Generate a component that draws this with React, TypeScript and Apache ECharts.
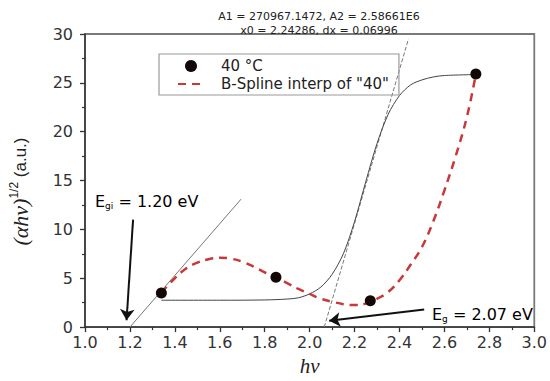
import React, { useEffect, useRef } from "react";
import * as echarts from "echarts";

// measured data points (40 °C)
const pointsX = [1.34, 1.85, 2.27, 2.74];
const pointsY = [3.5, 5.1, 2.7, 25.9];

// B-spline interpolation (dashed red)
const splineX = [1.34, 1.37, 1.4, 1.45, 1.5, 1.55, 1.6, 1.65, 1.7, 1.75, 1.8, 1.85, 1.9, 1.95, 2.0, 2.05, 2.1, 2.15, 2.2, 2.25, 2.3, 2.35, 2.4, 2.45, 2.5, 2.55, 2.6, 2.65, 2.7, 2.74];
const splineY = [3.5, 4.3, 5.0, 6.0, 6.6, 6.95, 7.1, 7.0, 6.7, 6.2, 5.6, 5.1, 4.5, 3.9, 3.4, 2.9, 2.6, 2.35, 2.25, 2.4, 2.9, 3.6, 4.8, 6.4, 8.2, 10.8, 14.0, 17.5, 21.5, 25.9];

// sigmoid fit curve (thin black)
const fitX = [1.34, 1.6, 1.8, 1.9, 1.95, 2.0, 2.05, 2.1, 2.15, 2.2, 2.25, 2.3, 2.35, 2.4, 2.45, 2.5, 2.55, 2.6, 2.74];
const fitY = [2.75, 2.75, 2.78, 2.87, 3.0, 3.4, 4.1, 5.4, 7.5, 10.8, 14.9, 18.8, 21.8, 23.7, 24.8, 25.3, 25.6, 25.75, 25.85];

// tangent lines
const tangentX = [2.065, 2.44];
const tangentY = [0, 29.5];
const lowLineX = [1.2, 1.695];
const lowLineY = [0, 13.1];

// arrows [from, to]
const arrowGi = [[1.214, 11.0], [1.185, 0.7]];
const arrowG = [[2.51, 1.8], [2.087, 0.65]];

const titleLines = ["A1 = 270967.1472, A2 = 2.58661E6", "x0 = 2.24286, dx = 0.06996"];
const legendNames = ["40 °C", 'B-Spline interp of "40"'];
const egiLabel = ["E", "gi", " = 1.20 eV"];
const egLabel = ["E", "g", " = 2.07 eV"];

const SANS = "DejaVu Sans";
const SERIF = "Liberation Serif";

const zip = (xs: number[], ys: number[]) => xs.map((x, i) => [x, ys[i]]);

const subRich = {
  a: { fontFamily: SANS, fontSize: 16, lineHeight: 18, color: "#222", verticalAlign: "middle" },
  s: { fontFamily: SANS, fontSize: 9, lineHeight: 9, color: "#222", verticalAlign: "bottom" },
};

export default function App() {
  const ref = useRef<HTMLDivElement>(null);
  useEffect(() => {
    if (!ref.current) return;
    const chart = echarts.init(ref.current, null, { renderer: "svg" });
    chart.setOption({
      animation: false,
      backgroundColor: "#fff",
      grid: {
        left: 79,
        right: 13,
        top: 34,
        bottom: 50,
        show: true,
        borderColor: "#7a7a7a",
        borderWidth: 1.8,
      },
      legend: {
        left: 159,
        top: 54,
        orient: "vertical",
        data: [
          { name: legendNames[0], icon: "circle" },
          {
            name: legendNames[1],
            itemStyle: { color: "rgba(0,0,0,0)", borderColor: "rgba(0,0,0,0)", borderWidth: 0 },
          },
        ],
        itemWidth: 26,
        itemHeight: 12,
        itemGap: 2,
        padding: [4, 10, 3, 18],
        borderColor: "#9a9a9a",
        borderWidth: 1.2,
        textStyle: {
          fontFamily: SANS,
          fontSize: 15,
          color: "#222",
          lineHeight: 16,
          padding: [0, 0, 0, 12],
        },
      },
      graphic: [
        {
          type: "text",
          x: 319,
          y: 16,
          style: {
            text: titleLines[0],
            font: `11px "${SANS}"`,
            fill: "#222",
            align: "center",
            verticalAlign: "middle",
          },
        },
        {
          type: "text",
          x: 319,
          y: 30,
          style: {
            text: titleLines[1],
            font: `11px "${SANS}"`,
            fill: "#222",
            align: "center",
            verticalAlign: "middle",
          },
        },
        {
          type: "text",
          x: 95,
          y: 201,
          style: {
            text: `{a|${egiLabel[0]}}{s|${egiLabel[1]}}{a|${egiLabel[2]}}`,
            verticalAlign: "middle",
            align: "left",
            rich: subRich,
          },
        },
        {
          type: "text",
          x: 432,
          y: 314,
          style: {
            text: `{a|${egLabel[0]}}{s|${egLabel[1]}}{a|${egLabel[2]}}`,
            verticalAlign: "middle",
            align: "left",
            rich: subRich,
          },
        },
      ],
      xAxis: {
        type: "value",
        min: 1.0,
        max: 3.0,
        interval: 0.2,
        name: "hν",
        nameLocation: "middle",
        nameGap: 25,
        nameTextStyle: { fontFamily: SERIF, fontStyle: "italic", fontSize: 21, color: "#222" },
        axisLine: { show: true, lineStyle: { color: "#333", width: 1.5 } },
        axisTick: { show: true, length: 5, lineStyle: { color: "#333", width: 1.3 } },
        minorTick: { show: true, splitNumber: 2, length: 3, lineStyle: { color: "#333", width: 1.2 } },
        splitLine: { show: false },
        axisLabel: {
          margin: 7,
          fontFamily: SANS,
          fontSize: 16,
          color: "#333",
          formatter: (v: number) => v.toFixed(1),
        },
      },
      yAxis: {
        type: "value",
        min: 0,
        max: 30,
        interval: 5,
        name: "{i|(αhν)}{p|1/2}{n| (a.u.)}",
        nameLocation: "middle",
        nameRotate: 90,
        nameGap: 53,
        nameTextStyle: {
          padding: [0, 22, 0, 0],
          rich: {
            i: { fontFamily: SERIF, fontStyle: "italic", fontSize: 22, lineHeight: 24, color: "#222", verticalAlign: "middle" },
            p: { fontFamily: "Liberation Sans", fontSize: 12, lineHeight: 12, color: "#222", verticalAlign: "top" },
            n: { fontFamily: "Liberation Sans", fontSize: 17, lineHeight: 24, color: "#222", verticalAlign: "middle" },
          },
        },
        axisLine: { show: true, lineStyle: { color: "#333", width: 1.5 } },
        axisTick: { show: true, length: 5, lineStyle: { color: "#333", width: 1.3 } },
        minorTick: { show: true, splitNumber: 2, length: 3, lineStyle: { color: "#333", width: 1.2 } },
        splitLine: { show: false },
        axisLabel: { margin: 12, fontFamily: SANS, fontSize: 16, color: "#333" },
      },
      series: [
        {
          name: "low-tangent",
          type: "line",
          data: zip(lowLineX, lowLineY),
          symbol: "none",
          lineStyle: { color: "#777", width: 1 },
          z: 2,
        },
        {
          name: "tangent",
          type: "line",
          data: zip(tangentX, tangentY),
          symbol: "none",
          lineStyle: { color: "#777", width: 1, type: [4, 2] },
          z: 2,
        },
        {
          name: "fit",
          type: "line",
          data: zip(fitX, fitY),
          symbol: "none",
          smooth: 0.3,
          lineStyle: { color: "#444", width: 1 },
          z: 3,
        },
        {
          name: legendNames[1],
          type: "line",
          data: zip(splineX, splineY),
          symbol: "none",
          smooth: 0.4,
          itemStyle: { color: "#c8373a" },
          lineStyle: { color: "#c8373a", width: 2.5, type: [8, 6] },
          z: 4,
        },
        {
          name: legendNames[0],
          type: "scatter",
          data: zip(pointsX, pointsY),
          symbol: "circle",
          symbolSize: 11,
          itemStyle: { color: "#120808", opacity: 1 },
          z: 6,
        },
        {
          name: "arrows",
          type: "lines",
          coordinateSystem: "cartesian2d",
          data: [{ coords: arrowGi }, { coords: arrowG }],
          symbol: ["none", "arrow"],
          symbolSize: 11,
          lineStyle: { color: "#111", width: 2, opacity: 1 },
          z: 5,
        },
      ],
    });
    return () => chart.dispose();
  }, []);
  return (
    <div
      ref={ref}
      style={{ position: "fixed", left: 0, top: 0, width: 550, height: 381 }}
    />
  );
}
